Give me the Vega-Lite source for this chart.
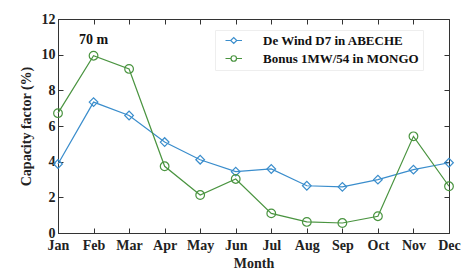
{
  "$schema": "https://vega.github.io/schema/vega-lite/v6.json",
  "width": 391,
  "height": 214,
  "autosize": {"type": "none"},
  "padding": {"left": 58, "top": 19, "right": 22, "bottom": 45},
  "background": "white",
  "config": {
    "font": "Liberation Serif",
    "view": {"stroke": "#333333", "strokeWidth": 1},
    "axis": {
      "labelFont": "Liberation Serif", "labelFontSize": 14, "labelFontWeight": "bold", "labelColor": "#222222",
      "titleFont": "Liberation Serif", "titleFontSize": 14, "titleFontWeight": "bold", "titleColor": "#222222",
      "domainColor": "#333333", "tickColor": "#333333", "tickSize": -5, "grid": false,
      "labelOverlap": false, "labelBound": false, "labelFlush": false
    }
  },
  "datasets": {
    "cf": [
      {"month": "Jan", "series": "De Wind D7 in ABECHE", "value": 3.87},
      {"month": "Feb", "series": "De Wind D7 in ABECHE", "value": 7.34},
      {"month": "Mar", "series": "De Wind D7 in ABECHE", "value": 6.59},
      {"month": "Apr", "series": "De Wind D7 in ABECHE", "value": 5.1},
      {"month": "May", "series": "De Wind D7 in ABECHE", "value": 4.11},
      {"month": "Jun", "series": "De Wind D7 in ABECHE", "value": 3.44},
      {"month": "Jul", "series": "De Wind D7 in ABECHE", "value": 3.59},
      {"month": "Aug", "series": "De Wind D7 in ABECHE", "value": 2.65},
      {"month": "Sep", "series": "De Wind D7 in ABECHE", "value": 2.59},
      {"month": "Oct", "series": "De Wind D7 in ABECHE", "value": 2.99},
      {"month": "Nov", "series": "De Wind D7 in ABECHE", "value": 3.55},
      {"month": "Dec", "series": "De Wind D7 in ABECHE", "value": 3.94},
      {"month": "Jan", "series": "Bonus 1MW/54 in MONGO", "value": 6.72},
      {"month": "Feb", "series": "Bonus 1MW/54 in MONGO", "value": 9.94},
      {"month": "Mar", "series": "Bonus 1MW/54 in MONGO", "value": 9.2},
      {"month": "Apr", "series": "Bonus 1MW/54 in MONGO", "value": 3.74},
      {"month": "May", "series": "Bonus 1MW/54 in MONGO", "value": 2.13},
      {"month": "Jun", "series": "Bonus 1MW/54 in MONGO", "value": 3.03},
      {"month": "Jul", "series": "Bonus 1MW/54 in MONGO", "value": 1.1},
      {"month": "Aug", "series": "Bonus 1MW/54 in MONGO", "value": 0.62},
      {"month": "Sep", "series": "Bonus 1MW/54 in MONGO", "value": 0.56},
      {"month": "Oct", "series": "Bonus 1MW/54 in MONGO", "value": 0.94},
      {"month": "Nov", "series": "Bonus 1MW/54 in MONGO", "value": 5.42},
      {"month": "Dec", "series": "Bonus 1MW/54 in MONGO", "value": 2.62}
    ],
    "note": [{"month": "Feb", "value": 10.85, "label": "70 m"}]
  },
  "resolve": {
    "scale": {"shape": "independent", "stroke": "independent"},
    "legend": {"shape": "independent", "stroke": "independent"},
    "axis": {"x": "independent", "y": "independent"}
  },
  "layer": [
    {
      "data": {"name": "cf"},
      "mark": {"type": "line", "strokeWidth": 1.2},
      "encoding": {
        "x": {"field": "month", "type": "ordinal", "sort": null,
          "scale": {"type": "point", "padding": 0, "domain": ["Jan","Feb","Mar","Apr","May","Jun","Jul","Aug","Sep","Oct","Nov","Dec"]},
          "axis": {"title": "Month", "labelAngle": 0, "labelPadding": 10, "titlePadding": 4}},
        "y": {"field": "value", "type": "quantitative",
          "scale": {"domain": [0, 12]},
          "axis": {"title": "Capacity factor (%)", "values": [0,2,4,6,8,10,12], "labelPadding": 8, "titlePadding": 8}},
        "color": {"field": "series", "type": "nominal",
          "scale": {"domain": ["De Wind D7 in ABECHE", "Bonus 1MW/54 in MONGO"], "range": ["#3a8dcc", "#4a9440"]},
          "legend": null}
      }
    },
    {
      "data": {"name": "cf"},
      "mark": {"type": "point", "filled": false, "strokeWidth": 1.2, "opacity": 1},
      "encoding": {
        "x": {"field": "month", "type": "ordinal", "sort": null, "axis": null},
        "y": {"field": "value", "type": "quantitative", "axis": null},
        "color": {"field": "series", "type": "nominal", "legend": null},
        "shape": {"field": "series", "type": "nominal",
          "scale": {"domain": ["De Wind D7 in ABECHE", "Bonus 1MW/54 in MONGO"], "range": ["diamond", "circle"]},
          "legend": null},
        "size": {"value": 75}
      }
    },
    {
      "data": {"name": "cf"},
      "mark": {"type": "point", "filled": false, "strokeWidth": 1.2, "opacity": 0},
      "encoding": {
        "x": {"field": "month", "type": "ordinal", "sort": null, "axis": null},
        "y": {"field": "value", "type": "quantitative", "axis": null},
        "stroke": {"field": "series", "type": "nominal",
          "scale": {"domain": ["De Wind D7 in ABECHE", "Bonus 1MW/54 in MONGO"], "range": ["#3a8dcc", "#4a9440"]},
          "legend": {
            "title": null, "orient": "none", "legendX": 157, "legendY": 11,
            "labelFont": "Liberation Serif", "labelFontSize": 13, "labelFontWeight": "bold", "labelColor": "#111111",
            "symbolSize": 100, "symbolOpacity": 1, "symbolStrokeWidth": 1.2, "symbolFillColor": "transparent",
            "fillColor": "white", "strokeColor": "#eeeeee", "padding": 4, "rowPadding": 4, "labelOffset": 31
          }},
        "shape": {"field": "series", "type": "nominal",
          "scale": {"domain": ["De Wind D7 in ABECHE", "Bonus 1MW/54 in MONGO"],
            "range": ["M0,0H1.05L1.65,-0.6L2.25,0L1.65,0.6L1.05,0ZM2.25,0H3.3", "M0,0H1.1A0.55,0.55 0 1,1 2.2,0A0.55,0.55 0 1,1 1.1,0ZM2.2,0H3.3"]},
          "legend": {"title": null}}
      }
    },
    {
      "data": {"name": "note"},
      "mark": {"type": "text", "font": "Liberation Serif", "fontSize": 14, "fontWeight": "bold", "color": "#111111"},
      "encoding": {
        "x": {"field": "month", "type": "ordinal",
          "axis": {"orient": "top", "labels": false, "title": null, "domain": false}},
        "y": {"field": "value", "type": "quantitative",
          "axis": {"orient": "right", "labels": false, "title": null, "domain": false, "values": [0,2,4,6,8,10,12]}},
        "text": {"field": "label"}
      }
    }
  ]
}
